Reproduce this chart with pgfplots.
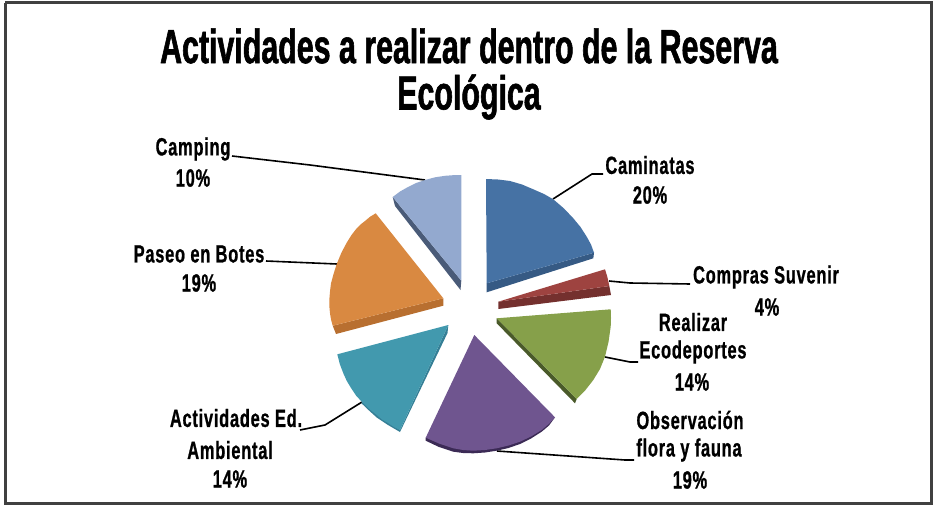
\documentclass[border=0pt]{standalone}
\usepackage{pgfplots}
\pgfplotsset{compat=1.18}
\usepackage{fontspec}
\setmainfont{Liberation Sans}
\newfontfamily\titlefont[FakeStretch=0.635,FakeBold=1.2]{Liberation Sans Bold}
\newfontfamily\labelfont[FakeStretch=0.66,FakeBold=0.8,LetterSpace=3]{Liberation Sans Bold}
\definecolor{cblue}{HTML}{4672A4}\definecolor{sblue}{HTML}{365A84}
\definecolor{cred}{HTML}{9E4340}\definecolor{sred}{HTML}{74302E}
\definecolor{cgreen}{HTML}{86A04A}\definecolor{sgreen}{HTML}{4A5A2A}
\definecolor{cpurple}{HTML}{6F558F}\definecolor{spurple}{HTML}{3B2A55}
\definecolor{cteal}{HTML}{4299AE}\definecolor{steal}{HTML}{357F96}
\definecolor{corange}{HTML}{D98941}\definecolor{sorange}{HTML}{B86F30}
\definecolor{cgrey}{HTML}{93A9CF}\definecolor{sgrey}{HTML}{4A5B78}
\newcommand{\lab}[3]{\node[font=\labelfont\fontsize{25}{25}\selectfont,text=black,inner sep=0pt,anchor=center] at (axis cs:#1,#2) {#3};}
\begin{document}
\begin{tikzpicture}
\useasboundingbox (0,0) rectangle (936bp,506bp);
\begin{axis}[at={(0,0)},anchor=south west,scale only axis,width=936bp,height=506bp,
  xmin=0,xmax=936,ymin=0,ymax=506,y dir=reverse,hide axis,clip=false,
  every axis plot/.append style={no markers,forget plot}]
% frame
\addplot[draw=black!75,line width=3bp] coordinates {(5,3)(931,3)(931,503)(5,503)(5,3)};
% leader lines
\addplot[black,line width=1.6bp] coordinates {(232,156)(310,165)(425,180)};
\addplot[black,line width=1.6bp] coordinates {(266,261)(337,264)};
\addplot[black,line width=1.6bp] coordinates {(553,199)(592,174)(603,174)};
\addplot[black,line width=1.6bp] coordinates {(609,281)(630,283)(690,284)};
\addplot[black,line width=1.6bp] coordinates {(605,357)(630,362)(638,362)};
\addplot[black,line width=1.6bp] coordinates {(362,402)(325,425)(300,430)};
\addplot[black,line width=1.6bp] coordinates {(497,451)(625,460)(634,460)};
% sides
\addplot[fill=sgrey,draw=none] coordinates {(392.7,197)(395,206)(460.5,290)(461.3,280.7)};
\addplot[fill=sorange,draw=none] coordinates {(332.7,325.7)(336,334)(443.3,305.7)(443.3,298.3)};
\addplot[fill=steal,draw=none] coordinates {(448.3,325)(447.5,333)(400,432)(388,425)(376.7,417.5)(369,410.5)(361.7,403.5)(361.7,401.7)(400,430)};
\addplot[fill=spurple,draw=none] coordinates {(425.7,437.7)(425.7,440.7)(439,447)(453.3,451.7)(463,453)(473.3,453.3)(485,452.5)(496.7,450.7)(508.5,448)(520,444)(531,438.5)(541.7,431.7)(549,425.5)(555,417.3)};
\addplot[fill=sgreen,draw=none] coordinates {(496.7,318.3)(496.7,323.3)(575,403.3)(576.7,399)};
\addplot[fill=sred,draw=none] coordinates {(498.3,301.7)(498.3,309)(611,295)(609.3,286)};
\addplot[fill=sblue,draw=none] coordinates {(486.7,283.3)(486.7,292.3)(593.3,258.3)(594,252.7)};
% tops
\addplot[fill=cblue,draw=none] coordinates {(486,179)(498,179.5)(510,181)(522,184.5)(533.3,189.3)(544,194)(553.3,199.3)(564,208.5)(573.3,218.3)(580.5,227)(586.7,236.7)(591,244.5)(594,252.7)(486.7,283.3)};
\addplot[fill=cred,draw=none] coordinates {(605,269.3)(607.3,276.7)(609.3,286)(498.3,301.7)};
\addplot[fill=cgreen,draw=none] coordinates {(496.7,318.3)(610.7,309.3)(611,318)(610.7,326.7)(608.5,342)(605,356.7)(600,369)(593.3,380)(585.5,390)(576.7,399)};
\addplot[fill=cpurple,draw=none] coordinates {(474.3,335)(555,417.3)(548.8,424)(541.7,430)(531,436.5)(520,441.7)(508.5,445.5)(496.7,448.3)(485,450)(473.3,450.7)(463,450)(453.3,448.3)(439,443.5)(425.7,437.7)};
\addplot[fill=cteal,draw=none] coordinates {(448.3,325)(337.3,354.3)(339.8,364)(343.3,373.3)(346.8,381)(351,388)(356,395.5)(361.7,401.7)(369,408.8)(376.7,415)(382,419.5)(388,423)(394,427)(400,430)};
\addplot[fill=corange,draw=none] coordinates {(375.7,213.3)(370,216.8)(365,221)(360.5,224.5)(356.7,228.3)(351.5,235)(346.7,242.7)(341.5,252.5)(336.7,264)(333.7,273.5)(331,283.3)(330,291.5)(329.3,300)(329.4,307)(330,313.3)(331,319.5)(332.7,325.7)(443.3,298.3)};
\addplot[fill=cgrey,draw=none] coordinates {(461.3,175)(453,175.2)(445,175.8)(435,177.3)(425,180)(416,183)(408,187)(400,191.5)(392.7,197)(461.3,280.7)};
% text
\node[font=\titlefont\fontsize{48}{48}\selectfont,inner sep=0pt] at (axis cs:469,46) {Actividades a realizar dentro de la Reserva};
\node[font=\titlefont\fontsize{48}{48}\selectfont,inner sep=0pt] at (axis cs:469,97) {Ecológica};
\lab{193}{149}{Camping}\lab{193}{178}{10\%}
\lab{650}{165}{Caminatas}\lab{650}{195}{20\%}
\lab{766}{277}{Compras Suvenir}\lab{767}{307}{4\%}
\lab{693}{322}{Realizar}\lab{693}{352}{Ecodeportes}\lab{692}{382}{14\%}
\lab{690}{420}{Observación}\lab{689}{450}{flora y fauna}\lab{690}{480}{19\%}
\lab{236}{418}{Actividades Ed.}\lab{230}{450}{Ambiental}\lab{230}{479}{14\%}
\lab{199}{254}{Paseo en Botes}\lab{199}{283}{19\%}
\end{axis}
\end{tikzpicture}
\end{document}
